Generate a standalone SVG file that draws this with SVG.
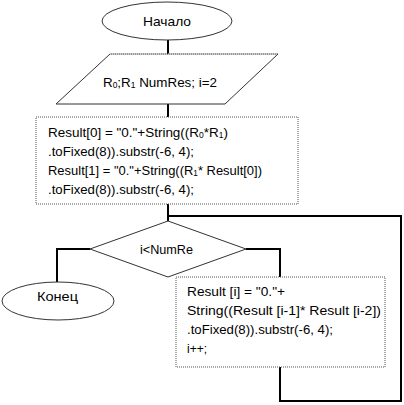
<svg xmlns="http://www.w3.org/2000/svg" width="404" height="405" viewBox="0 0 404 405">
<style>
text{font-family:"Liberation Sans",Arial,sans-serif;font-size:13.5px;fill:#000}
.c{text-anchor:middle}
.shape{fill:#fff;stroke:#333;stroke-width:1}
.dot{fill:#fff;stroke:#555;stroke-width:1;stroke-dasharray:1 1}
.conn{fill:none;stroke:#000;stroke-width:2}
</style>
<rect width="404" height="405" fill="#fff"/>
<g id="connectors">
<path class="conn" d="M168 40V54"/>
<path class="conn" d="M168 104V117"/>
<path class="conn" d="M168 204V221"/>
<path class="conn" d="M280 367V401H401V216H168"/>
<path class="conn" d="M90 249H57V283"/>
<path class="conn" d="M246 249H280V277"/>
</g>
<g id="start">
<ellipse class="shape" cx="167" cy="21" rx="65" ry="19"/>
<text class="c" x="167" y="25.5" textLength="48" lengthAdjust="spacingAndGlyphs">Начало</text>
</g>
<g id="input">
<polygon class="shape" points="110,54 278,54 225,104 56,104"/>
<path d="M110 54H278" stroke="#fff" stroke-width="1" stroke-dasharray="1 1"/>
<text x="103" y="86.5" textLength="114" lengthAdjust="spacingAndGlyphs">R<tspan font-size="8.5" dy="1.5">0</tspan><tspan dy="-1.5">;R</tspan><tspan font-size="8.5" dy="1.5">1</tspan><tspan dy="-1.5"> NumRes; i=2</tspan></text>
</g>
<g id="init">
<rect class="dot" x="36" y="117" width="262" height="87"/>
<text x="48" y="136.5" textLength="180" lengthAdjust="spacingAndGlyphs">Result[0] = "0."+String((R<tspan font-size="8.5" dy="1.5">0</tspan><tspan dy="-1.5">*R</tspan><tspan font-size="8.5" dy="1.5">1</tspan><tspan dy="-1.5">)</tspan></text>
<text x="48" y="155.5" textLength="146" lengthAdjust="spacingAndGlyphs">.toFixed(8)).substr(-6, 4);</text>
<text x="48" y="174.5" textLength="214" lengthAdjust="spacingAndGlyphs">Result[1] = "0."+String((R<tspan font-size="8.5" dy="1.5">1</tspan><tspan dy="-1.5">* Result[0])</tspan></text>
<text x="48" y="193.5" textLength="146" lengthAdjust="spacingAndGlyphs">.toFixed(8)).substr(-6, 4);</text>
</g>
<g id="cond">
<polygon class="shape" points="168,221 246,249 168,277 90,249"/>
<text class="c" x="166.5" y="253.5" textLength="53" lengthAdjust="spacingAndGlyphs">i&lt;NumRe</text>
</g>
<g id="end">
<ellipse class="shape" cx="58" cy="301" rx="56" ry="19"/>
<text class="c" x="57.5" y="300.5" textLength="41" lengthAdjust="spacingAndGlyphs">Конец</text>
</g>
<g id="body">
<rect class="dot" x="176" y="277" width="209" height="90"/>
<text x="187" y="296" textLength="98" lengthAdjust="spacingAndGlyphs">Result [i] = "0."+</text>
<text x="187" y="315" textLength="194" lengthAdjust="spacingAndGlyphs">String((Result [i-1]* Result [i-2])</text>
<text x="187" y="334" textLength="146" lengthAdjust="spacingAndGlyphs">.toFixed(8)).substr(-6, 4);</text>
<text x="187" y="353" textLength="20" lengthAdjust="spacingAndGlyphs">i++;</text>
</g>
</svg>
